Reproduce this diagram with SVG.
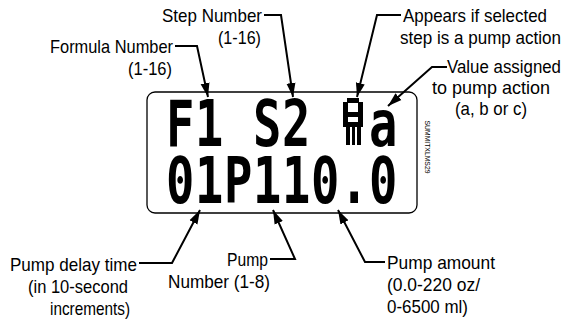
<svg xmlns="http://www.w3.org/2000/svg" width="571" height="333" viewBox="0 0 571 333">
<defs>
<marker id="ah" markerUnits="userSpaceOnUse" markerWidth="15" markerHeight="10" refX="14" refY="5" orient="auto">
<path d="M0,0.5 L14,5 L0,9.5 z" fill="#000"/>
</marker>
</defs>
<style>
.lbl{font-family:"Liberation Sans",Arial,sans-serif;font-size:18.5px;fill:#000}
.sm{font-size:17.5px}
.lcd{font-family:"DejaVu Sans Mono",monospace;font-weight:bold;font-size:62px;fill:#000}
.con{fill:none;stroke:#000;stroke-width:2;marker-end:url(#ah)}
</style>
<rect width="571" height="333" fill="#fff"/>
<g id="display">
<rect x="147" y="92" width="270" height="121" rx="8" fill="#fff" stroke="#000" stroke-width="1.3"/>
<text class="lcd" transform="translate(166,146) scale(0.76,1.02)" x="0 38.16 76.3 114.5 152.6 190.8 267.1">F1 S2 a</text>
<g id="pump-icon" fill="#000">
<rect x="347" y="98" width="12" height="5"/>
<rect x="343" y="102" width="5" height="25"/>
<rect x="358" y="102" width="5" height="25"/>
<rect x="343" y="112" width="20" height="5"/>
<rect x="343" y="122" width="20" height="5"/>
<rect x="346" y="127" width="4" height="18"/>
<rect x="352" y="127" width="3" height="18"/>
<rect x="357" y="127" width="4" height="18"/>
</g>
<text class="lcd" transform="translate(166,203) scale(0.76,1.02)" x="0 38.16 76.3 114.5 152.6 190.8 228.9 267.1">01P110.0</text>
<text transform="translate(425,147) rotate(90)" text-anchor="middle" font-family="Liberation Sans, Arial, sans-serif" font-size="7.5" textLength="53" lengthAdjust="spacingAndGlyphs">SUMMITXLMS29</text>
</g>
<g id="formula-number">
<text class="lbl" x="50" y="53" textLength="123" lengthAdjust="spacingAndGlyphs">Formula Number</text>
<text class="lbl" x="128" y="75" textLength="44" lengthAdjust="spacingAndGlyphs">(1-16)</text>
</g>
<g id="step-number">
<text class="lbl" x="162" y="22" textLength="100" lengthAdjust="spacingAndGlyphs">Step Number</text>
<text class="lbl" x="218" y="44" textLength="43" lengthAdjust="spacingAndGlyphs">(1-16)</text>
</g>
<g id="appears">
<text class="lbl" x="403" y="22" textLength="144" lengthAdjust="spacingAndGlyphs">Appears if selected</text>
<text class="lbl sm" x="400" y="44" textLength="161" lengthAdjust="spacingAndGlyphs">step is a pump action</text>
</g>
<g id="value-assigned">
<text class="lbl sm" x="447" y="73" textLength="114" lengthAdjust="spacingAndGlyphs">Value assigned</text>
<text class="lbl" x="432" y="94" textLength="118" lengthAdjust="spacingAndGlyphs">to pump action</text>
<text class="lbl" x="455" y="115" textLength="72" lengthAdjust="spacingAndGlyphs">(a, b or c)</text>
</g>
<g id="pump-delay">
<text class="lbl" x="10" y="271" textLength="127" lengthAdjust="spacingAndGlyphs">Pump delay time</text>
<text class="lbl" x="28" y="293" textLength="100" lengthAdjust="spacingAndGlyphs">(in 10-second</text>
<text class="lbl" x="50" y="315" textLength="80" lengthAdjust="spacingAndGlyphs">increments)</text>
</g>
<g id="pump-number">
<text class="lbl" x="227" y="266" textLength="41" lengthAdjust="spacingAndGlyphs">Pump</text>
<text class="lbl" x="168" y="288" textLength="102" lengthAdjust="spacingAndGlyphs">Number (1-8)</text>
</g>
<g id="pump-amount">
<text class="lbl" x="387" y="269" textLength="108" lengthAdjust="spacingAndGlyphs">Pump amount</text>
<text class="lbl" x="387" y="291" textLength="93" lengthAdjust="spacingAndGlyphs">(0.0-220 oz/</text>
<text class="lbl" x="387" y="313" textLength="81" lengthAdjust="spacingAndGlyphs">0-6500 ml)</text>
</g>
<g id="connectors">
<polyline class="con" points="175,46 197,46 208,97"/>
<polyline class="con" points="264,15 281,15 293,97"/>
<polyline class="con" points="401,15 377,15 357,97"/>
<polyline class="con" points="447,67 432,67 388,106"/>
<polyline class="con" points="139,263 172,263 200,210"/>
<polyline class="con" points="270,259 295,259 273,210"/>
<polyline class="con" points="385,262 365,262 338,210"/>
</g>
</svg>
